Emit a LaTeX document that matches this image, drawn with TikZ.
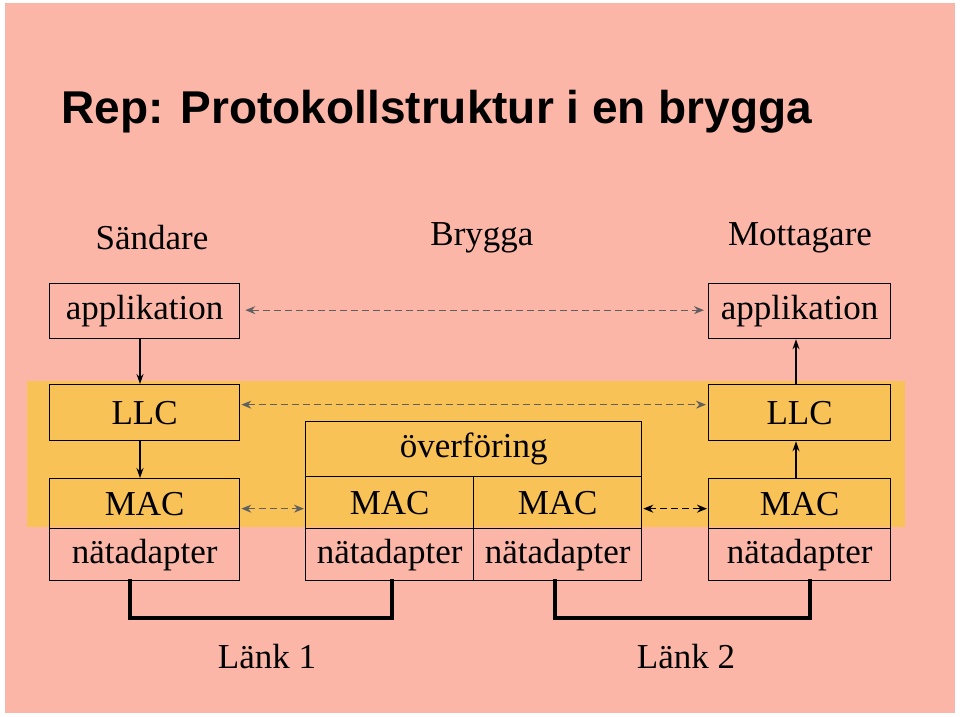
\documentclass[tikz,border=0pt]{standalone}
\usepackage{fontspec}
\setmainfont{Liberation Serif}
\newfontfamily\titlefont{Liberation Sans}
\usetikzlibrary{arrows.meta}
\definecolor{bgpink}{HTML}{FBB6A8}
\definecolor{band}{HTML}{F8C257}
\definecolor{dgray}{HTML}{606060}
\begin{document}
\begin{tikzpicture}[x=1pt,y=-1pt,
  box/.style={draw=black,line width=1.3pt,inner sep=0pt,anchor=north west},
  lbl/.style={font=\fontsize{35}{40}\selectfont},
  dash1/.style={dash pattern=on 7pt off 4pt,dgray,line width=1.2pt,{Stealth[length=10pt,width=8pt]}-{Stealth[length=10pt,width=8pt]}},
  dash2/.style={dash pattern=on 7pt off 4pt,black,line width=1.5pt,{Stealth[length=10pt,width=8pt]}-{Stealth[length=10pt,width=8pt]}},
  sol/.style={black,line width=1.2pt,-{Stealth[length=10pt,width=7pt]}},
  link/.style={black,line width=4pt,line cap=rect}]
\useasboundingbox (0,0) rectangle (960,716);
\fill[white] (0,0) rectangle (960,716);
\fill[bgpink] (5,3) rectangle (955,713);
\fill[band] (27,381) rectangle (905,527);
\node[anchor=west,font=\titlefont\bfseries\fontsize{46}{52}\selectfont] (title) at (58,112) {Rep: Protokollstruktur i en brygga};
\node[lbl] (s) at (152,238) {Sändare};
\node[lbl] (b) at (482,238) {Brygga};
\node[lbl] (m) at (800,238) {Mottagare};
% boxes
\node[box,minimum width=190pt,minimum height=55pt] (appL) at (49,283) {};
\node[lbl] at (appL.center) {applikation};
\node[box,minimum width=182pt,minimum height=55pt] (appR) at (708,283) {};
\node[lbl] at (appR.center) {applikation};
\node[box,minimum width=190pt,minimum height=56pt] (llcL) at (49,384) {};
\node[lbl] at (llcL.center) {LLC};
\node[box,minimum width=182pt,minimum height=56pt] (llcR) at (708,384) {};
\node[lbl] at (llcR.center) {LLC};
\node[box,minimum width=190pt,minimum height=50pt] (macL) at (49,478) {};
\node[lbl] at (macL.center) {MAC};
\node[box,minimum width=190pt,minimum height=52pt] (natL) at (49,528) {};
\node[lbl] at (natL.center) {nätadapter};
\node[box,minimum width=182pt,minimum height=50pt] (macR) at (708,478) {};
\node[lbl] at (macR.center) {MAC};
\node[box,minimum width=182pt,minimum height=52pt] (natR) at (708,528) {};
\node[lbl] at (natR.center) {nätadapter};
\node[box,minimum width=336pt,minimum height=55pt] (ov) at (305,421) {};
\node[lbl] at (ov.center) {överföring};
\node[box,minimum width=168pt,minimum height=52pt] (mac1) at (305,476) {};
\node[lbl] at (mac1.center) {MAC};
\node[box,minimum width=168pt,minimum height=52pt] (mac2) at (473,476) {};
\node[lbl] at (mac2.center) {MAC};
\node[box,minimum width=168pt,minimum height=52pt] (nat1) at (305,528) {};
\node[lbl] at (nat1.center) {nätadapter};
\node[box,minimum width=168pt,minimum height=52pt] (nat2) at (473,528) {};
\node[lbl] at (nat2.center) {nätadapter};
% arrows
\draw[sol] (appL.south -| 140,0) -- (llcL.north -| 140,0);
\draw[sol] (llcL.south -| 140,0) -- (macL.north -| 140,0);
\draw[sol] (macR.north -| 796,0) -- (llcR.south -| 796,0);
\draw[sol] (llcR.north -| 796,0) -- (appR.south -| 796,0);
\draw[dash1] ([xshift=5pt,yshift=1pt]appL.east) -- ([xshift=-4pt,yshift=1pt]appR.west);
\draw[dash1] ([xshift=1pt,yshift=8pt]llcL.east) -- ([xshift=-2pt,yshift=8pt]llcR.west);
\draw[dash1] ([xshift=1pt,yshift=-5pt]macL.east) -- ([xshift=-1pt,yshift=-5pt]macL.east -| mac1.west);
\draw[dash2] ([xshift=1pt,yshift=-6pt]mac2.east) -- ([xshift=-1pt,yshift=-6pt]mac2.east -| macR.west);
% links
\coordinate (l1) at (130,618);
\coordinate (l2) at (392,618);
\coordinate (l3) at (555,618);
\coordinate (l4) at (810,618);
\draw[link] (natL.south -| l1) -- (l1) -- (l2) -- (nat1.south -| l2);
\draw[link] (nat2.south -| l3) -- (l3) -- (l4) -- (natR.south -| l4);
\node[lbl] (k1) at (267,657) {Länk 1};
\node[lbl] (k2) at (686,657) {Länk 2};
\end{tikzpicture}
\end{document}
